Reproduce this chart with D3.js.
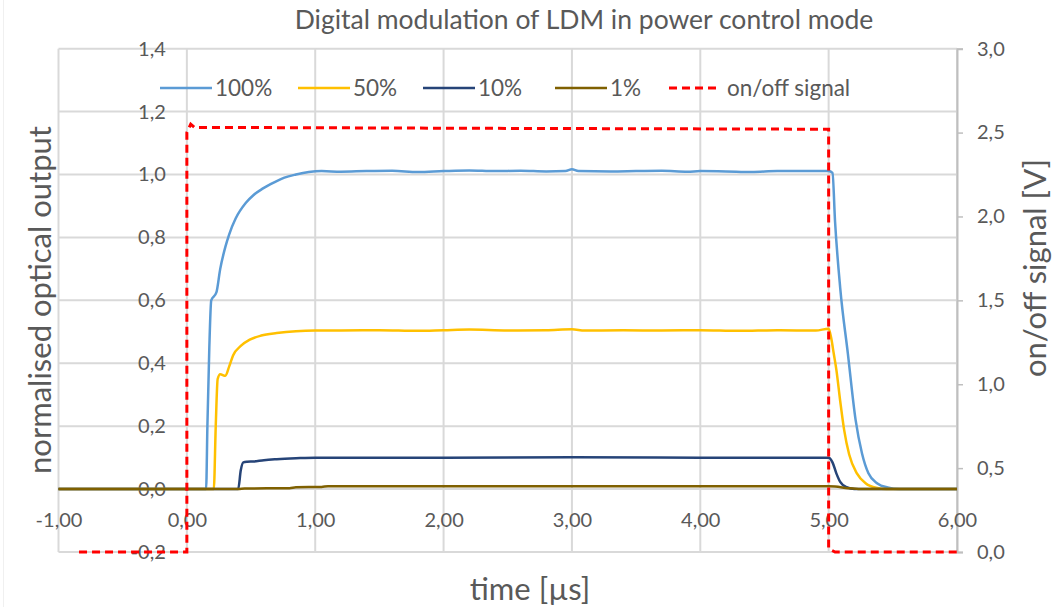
<!DOCTYPE html>
<html>
<head>
<meta charset="utf-8">
<script src="https://cdn.jsdelivr.net/npm/d3@7"></script>
<style>
  html, body { margin: 0; padding: 0; background: #fff; }
  svg { display: block; font-family: Lato, "Open Sans", sans-serif; }
</style>
</head>
<body>
<svg id="chart" width="1054" height="607"></svg>
<script>
// Normalised optical output of the LDM for four set-points, [time µs, output]
const series100 = [[-1,0],[0.15,0],[0.16,0.2],[0.175,0.45],[0.19,0.6],[0.23,0.625],[0.26,0.7],[0.30,0.77],[0.33,0.81],[0.38,0.86],[0.46,0.91],[0.52,0.935],[0.59,0.955],[0.68,0.975],[0.76,0.99],[0.85,1.0],[0.95,1.008],[1.05,1.011],[1.2,1.009],[1.4,1.011],[1.6,1.012],[1.8,1.008],[2.0,1.011],[2.2,1.013],[2.4,1.011],[2.6,1.012],[2.8,1.010],[2.95,1.011],[3.0,1.017],[3.05,1.011],[3.3,1.010],[3.5,1.011],[3.7,1.012],[3.9,1.009],[4.0,1.011],[4.2,1.010],[4.4,1.008],[4.6,1.011],[4.8,1.011],[5.0,1.011],[5.03,1.005],[5.05,0.85],[5.09,0.64],[5.15,0.43],[5.21,0.22],[5.26,0.113],[5.31,0.05],[5.38,0.018],[5.46,0.005],[5.55,0],[6,0]];
const series50 = [[-1,0],[0.21,0],[0.225,0.2],[0.24,0.35],[0.26,0.365],[0.30,0.36],[0.33,0.39],[0.36,0.425],[0.42,0.455],[0.49,0.475],[0.58,0.488],[0.70,0.496],[0.85,0.502],[1.0,0.504],[1.2,0.504],[1.5,0.505],[1.8,0.503],[2.0,0.505],[2.2,0.507],[2.5,0.504],[2.8,0.505],[3.0,0.508],[3.1,0.504],[3.4,0.505],[3.7,0.504],[4.0,0.505],[4.3,0.503],[4.6,0.505],[4.9,0.504],[5.0,0.51],[5.02,0.48],[5.04,0.43],[5.06,0.38],[5.09,0.28],[5.12,0.19],[5.16,0.11],[5.22,0.05],[5.29,0.018],[5.37,0.004],[5.45,0],[6,0]];
const series10 = [[-1,0],[0.40,0],[0.42,0.06],[0.44,0.085],[0.47,0.087],[0.52,0.088],[0.6,0.092],[0.7,0.095],[0.85,0.098],[1.0,0.1],[2.0,0.1],[3.0,0.101],[4.0,0.1],[5.0,0.1],[5.03,0.085],[5.06,0.05],[5.09,0.023],[5.14,0.006],[5.2,0],[6,0]];
const series1 = [[-1,0],[0.4,0],[0.45,0.002],[0.8,0.003],[0.85,0.006],[1.05,0.007],[1.1,0.009],[5.0,0.009],[5.05,0.008],[5.15,0.003],[5.25,0],[6,0]];
// Digital on/off control signal, [time µs, volts]
const signal = [[-0.84,0],[0,0],[0,2.5],[0.03,2.55],[0.06,2.53],[0.5,2.53],[2.5,2.525],[5.0,2.52],[5.0,0.02],[5.05,0],[6,0]];

const xTicks = [-1,0,1,2,3,4,5,6];
const yLeftTicks = [-0.2,0,0.2,0.4,0.6,0.8,1.0,1.2,1.4];
const yRightTicks = [0,0.5,1.0,1.5,2.0,2.5,3.0];
const legendLabels = ["100%","50%","10%","1%","on/off signal"];
const colors = ["#5b9bd5","#ffc000","#264478","#7f6000","#ff0000"];

const svg = d3.select("#chart");
const W = 1054, H = 607;
const plot = {left: 58.5, right: 957, top: 48.7, bottom: 552};

const x = d3.scaleLinear().domain([-1,6]).range([plot.left, plot.right]);
const yL = d3.scaleLinear().domain([-0.2,1.4]).range([plot.bottom, plot.top]);
const yR = d3.scaleLinear().domain([0,3]).range([plot.bottom, plot.top]);

const fmt2 = v => d3.format(".2f")(v).replace(".", ",").replace("−", "-");
const fmt1 = v => d3.format(".1f")(v).replace(".", ",").replace("−", "-");
const textColor = "#595959";
const gridColor = "#d9d9d9";
const tickFont = "20px";

// faint outer frame
svg.append("rect").attr("x",3.5).attr("y",-2).attr("width",W+4).attr("height",H+4)
  .attr("fill","none").attr("stroke","#f0f0f0").attr("stroke-width",1);

// gridlines
const grid = svg.append("g");
grid.selectAll("line.h").data(yLeftTicks).join("line")
  .attr("x1", plot.left).attr("x2", plot.right)
  .attr("y1", d => yL(d)).attr("y2", d => yL(d))
  .attr("stroke", gridColor).attr("stroke-width", 2);
grid.selectAll("line.v").data(xTicks).join("line")
  .attr("x1", d => x(d)).attr("x2", d => x(d))
  .attr("y1", plot.top).attr("y2", plot.bottom)
  .attr("stroke", gridColor).attr("stroke-width", 2);

// right axis (on/off signal) with outward ticks
const rightAxis = d3.axisRight(yR).tickValues(yRightTicks).tickSize(6).tickPadding(14).tickFormat(fmt1);
const ra = svg.append("g").attr("transform", `translate(${plot.right},0)`).call(rightAxis);
ra.select(".domain").attr("stroke", "#bfbfbf").attr("stroke-width", 2);
ra.selectAll(".tick line").attr("stroke", "#bfbfbf").attr("stroke-width", 1.5);
ra.selectAll(".tick text").attr("fill", textColor).style("font-size", tickFont).style("font-family", "Lato");

// left axis labels sit next to the value axis crossing at t = 0
const la = svg.append("g").attr("transform", `translate(${x(0)},0)`)
  .call(d3.axisLeft(yL).tickValues(yLeftTicks).tickSize(0).tickPadding(21).tickFormat(fmt1));
la.select(".domain").remove();
la.selectAll(".tick text").attr("fill", textColor).style("font-size", tickFont).style("font-family", "Lato");

// bottom axis labels below the zero line
const ba = svg.append("g").attr("transform", `translate(0,${yL(0)})`)
  .call(d3.axisBottom(x).tickValues(xTicks).tickSize(0).tickPadding(24).tickFormat(fmt2));
ba.select(".domain").remove();
ba.selectAll(".tick text").attr("fill", textColor).style("font-size", tickFont).style("font-family", "Lato");

// data lines: smooth optical traces, sharp-edged control signal
const lineL = d3.line().x(d => x(d[0])).y(d => yL(d[1])).curve(d3.curveMonotoneX);
const lineR = d3.line().x(d => x(d[0])).y(d => yR(d[1]));
const optical = [series100, series50, series10, series1];
optical.forEach((s, i) => {
  svg.append("path").datum(s).attr("d", lineL)
    .attr("fill","none").attr("stroke", colors[i]).attr("stroke-width", 2.5)
    .attr("stroke-linejoin","round");
});
svg.append("path").datum(signal).attr("d", lineR)
  .attr("fill","none").attr("stroke", colors[4]).attr("stroke-width", 3)
  .attr("stroke-dasharray","8,5");

// legend
const legendX = [160, 298, 423, 555, 669];
const leg = svg.append("g");
legendLabels.forEach((lab, i) => {
  const g = leg.append("g").attr("transform", `translate(${legendX[i]},88)`);
  g.append("line").attr("x1",0).attr("x2",52).attr("y1",0).attr("y2",0)
    .attr("stroke", colors[i]).attr("stroke-width", i === 4 ? 3 : 2.5)
    .attr("stroke-dasharray", i === 4 ? "8,5" : null);
  g.append("text").attr("x", i === 4 ? 58 : 55).attr("y", 0).attr("dy","0.35em")
    .attr("fill", textColor).style("font-size","22.5px").text(lab);
});

// titles
svg.append("text").attr("x", 584).attr("y", 29).attr("text-anchor","middle")
  .attr("fill", textColor).style("font-size","26.5px")
  .text("Digital modulation of LDM in power control mode");
svg.append("text").attr("transform", `translate(51,300) rotate(-90)`).attr("text-anchor","middle")
  .attr("fill", textColor).style("font-size","31px").text("normalised optical output");
svg.append("text").attr("transform", `translate(1046,268) rotate(-90)`).attr("text-anchor","middle")
  .attr("fill", textColor).style("font-size","31px").text("on/off signal [V]");
svg.append("text").attr("x", 530).attr("y", 600).attr("text-anchor","middle")
  .attr("fill", textColor).style("font-size","31px").text("time [µs]");
</script>
</body>
</html>
